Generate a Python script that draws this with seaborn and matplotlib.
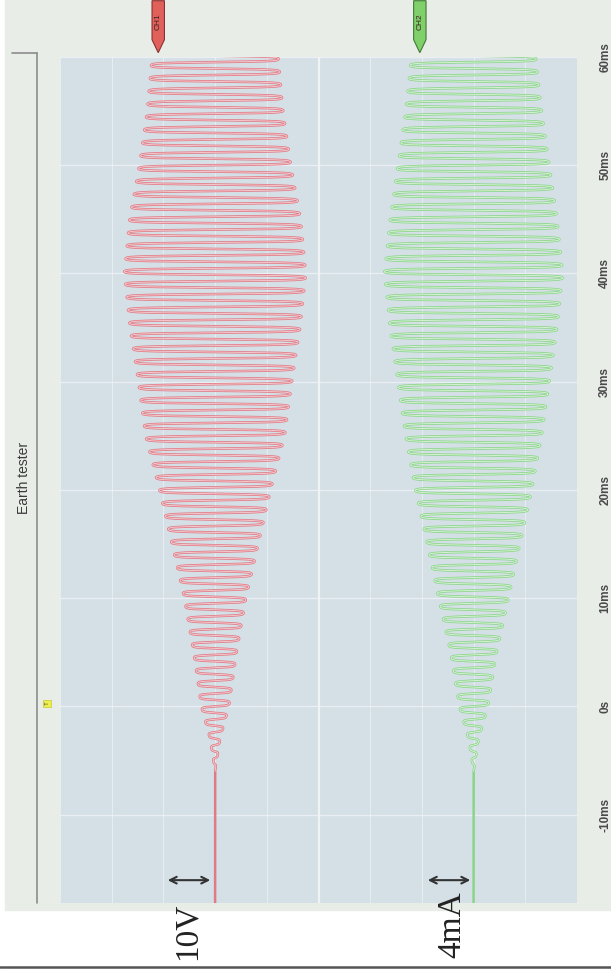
import numpy as np
import pandas as pd
import matplotlib.pyplot as plt
import seaborn as sns
from matplotlib.patches import Rectangle, Polygon
from matplotlib.lines import Line2D

sns.set_style("white")
plt.rcParams['font.family'] = ['Liberation Sans', 'DejaVu Sans']

# envelope of the two traces (time in ms, amplitude in divisions)
env_t = [-6, -3, 0, 5, 10, 15, 20, 25, 30, 35, 40, 45, 50, 55, 60.3]
red_amp = [0, 0.10, 0.27, 0.42, 0.60, 0.84, 1.08, 1.35, 1.49, 1.65, 1.76, 1.66, 1.47, 1.32, 1.22]
green_amp = [0, 0.10, 0.28, 0.45, 0.68, 0.90, 1.13, 1.32, 1.47, 1.62, 1.73, 1.62, 1.47, 1.32, 1.20]
red_center = 3.0      # CH1 zero line (div)
green_center = 8.0    # CH2 zero line (div)
carrier_hz = 840

time_ticks = [-10, 0, 10, 20, 30, 40, 50, 60]
time_labels = ['-10ms', '0s', '10ms', '20ms', '30ms', '40ms', '50ms', '60ms']

t_min, t_max = -18.16, 59.75

# build the traces (screen shows fast sweeps, so the sine is squashed a bit)
t = np.linspace(t_min, 60.3, 8000)
carrier = np.tanh(2.2 * np.sin(2 * np.pi * carrier_hz / 1000.0 * t)) / np.tanh(2.2)
df = pd.DataFrame({
    'time': t,
    'ch1': red_center + np.interp(t, env_t, red_amp, left=0) * carrier,
    'ch2': green_center + np.interp(t, env_t, green_amp, left=0) * carrier,
})
# pale core only where the signal is running (flat part is a single thin line)
df['ch1_core'] = df['ch1'].where(df['time'] > env_t[0])
df['ch2_core'] = df['ch2'].where(df['time'] > env_t[0])

W, H = 611, 977
fig = plt.figure(figsize=(W / 100, H / 100), dpi=100)
fig.patch.set_facecolor('white')

# light panel behind the scope screen
fig.add_artist(Rectangle((5 / W, 1 - 910 / H), (W - 5) / W, 910 / H,
                         transform=fig.transFigure, color='#e9ede8', zorder=-5))

ax = fig.add_axes([60 / W, 1 - 903 / H, (577 - 60) / W, (903 - 57) / H])
ax.set_facecolor('#d5e0e6')
ax.set_xlim(0, 10)
ax.set_ylim(t_min, t_max)

# grid
for d in range(11):
    ax.axvline(d, color='#f2f6f8', lw=1.6 if d == 5 else 0.8, alpha=0.9 if d == 5 else 0.6, zorder=1)
for tt in time_ticks:
    ax.axhline(tt, color='#f2f6f8', lw=0.9, alpha=0.7, zorder=1)

# traces drawn as a darker tube with a pale core, like the captured screen
for col, outer, inner in [('ch1', '#e07a86', '#f4c9cd'), ('ch2', '#8ad48a', '#d6f2d2')]:
    sns.lineplot(data=df, x=col, y='time', orient='y', sort=False, estimator=None,
                 color=outer, lw=1.8, ax=ax, zorder=3)
    sns.lineplot(data=df, x=col + '_core', y='time', orient='y', sort=False, estimator=None,
                 color=inner, lw=0.7, ax=ax, zorder=4)

for s in ax.spines.values():
    s.set_visible(False)
ax.set_xticks([])
ax.set_xlabel('')
ax.set_ylabel('')
ax.yaxis.tick_right()
ax.set_yticks(time_ticks)
ax.set_yticklabels(time_labels, rotation=90, va='center', fontsize=8.5,
                   fontweight='bold', color='#4a4a4a')
ax.tick_params(axis='y', length=0, pad=16)

# channel markers on top
for xc, fc, ec, lab in [(1.9, '#e0615c', '#8a3030', 'CH1'), (6.96, '#7fd06a', '#3f7a35', 'CH2')]:
    w = 0.12
    poly = Polygon([(xc - w, 65.2), (xc + w, 65.2), (xc + w, 61.6), (xc, 60.4), (xc - w, 61.6)],
                   closed=True, facecolor=fc, edgecolor=ec, lw=0.8, clip_on=False, zorder=6)
    ax.add_patch(poly)
    ax.text(xc, 63.3, lab, rotation=90, ha='center', va='center', fontsize=6,
            color='#3a2020', clip_on=False, zorder=7)

# scale arrows
ax.annotate('', xy=(2.03, -16.05), xytext=(2.96, -16.05),
            arrowprops=dict(arrowstyle='<->', color='#333333', lw=1.5, mutation_scale=12),
            annotation_clip=False, zorder=8)
ax.annotate('', xy=(7.06, -16.05), xytext=(7.99, -16.05),
            arrowprops=dict(arrowstyle='<->', color='#333333', lw=1.5, mutation_scale=12),
            annotation_clip=False, zorder=8)

# left frame line and labels
fig.add_artist(Line2D([37 / W, 37 / W], [1 - 53 / H, 1 - 903 / H], color='#8c8c8c', lw=1.2))
fig.add_artist(Line2D([12 / W, 37 / W], [1 - 53 / H, 1 - 53 / H], color='#8c8c8c', lw=1.2))
fig.text(24 / W, 1 - 478 / H, 'Earth tester', rotation=90, ha='center', va='center',
         fontsize=10, color='#3a3a3a')
fig.text(47 / W, 1 - 703 / H, 'T', rotation=90, ha='center', va='center', fontsize=4.5,
         color='#555500', bbox=dict(boxstyle='square,pad=0.25', fc='#eeee55', ec='#c8c830', lw=0.5))

fig.text(187 / W, 1 - 931 / H, '10V', rotation=90, ha='center', va='center',
         fontsize=24, family='Liberation Serif', color='#222222')
fig.text(452 / W, 1 - 925 / H, '4mA', rotation=90, ha='center', va='center',
         fontsize=24, family='Liberation Serif', color='#222222')

fig.add_artist(Line2D([0, 1], [1 - 967 / H, 1 - 967 / H], color='#555555', lw=1.8))

fig.savefig('out.png', dpi=100)
